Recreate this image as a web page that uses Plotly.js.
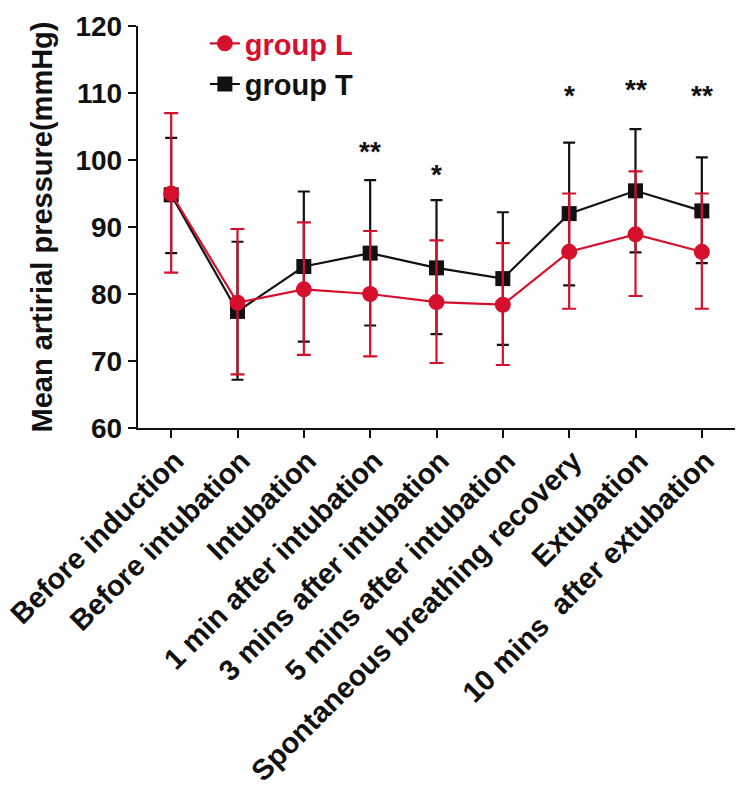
<!DOCTYPE html>
<html>
<head>
<meta charset="utf-8">
<script src="https://cdn.plot.ly/plotly-3.0.1.min.js"></script>
<style>
  html, body { margin: 0; padding: 0; background: #fff; }
  #chart { width: 741px; height: 791px; }
</style>
</head>
<body>
<div id="chart"></div>
<script>
// ---- data ----
var categories = [
  "Before induction",
  "Before intubation",
  "Intubation",
  "1 min after intubation",
  "3 mins after intubation",
  "5 mins after intubation",
  "Spontaneous breathing recovery",
  "Extubation",
  "10 mins  after extubation"
];
// group L (red)
var groupL_mean  = [95.0, 78.7, 80.7, 80.0, 78.8, 78.4, 86.3, 88.9, 86.3];
var groupL_upper = [107.0, 89.7, 90.7, 89.4, 88.0, 87.6, 95.0, 98.3, 95.0];
var groupL_lower = [83.2, 68.0, 70.9, 70.7, 69.7, 69.4, 77.8, 79.7, 77.8];
// group T (black)
var groupT_mean  = [94.8, 77.4, 84.1, 86.1, 83.9, 82.3, 92.0, 95.4, 92.4];
var groupT_upper = [103.3, 87.8, 95.3, 97.0, 94.0, 92.2, 102.6, 104.6, 100.4];
var groupT_lower = [86.1, 67.2, 72.9, 75.3, 74.0, 72.4, 81.3, 86.2, 84.6];
// significance marks
var sigCategoryIndex = [3, 4, 6, 7, 8];
var sigLabels = ["**", "*", "*", "**", "**"];
var sigY = [101.3, 97.8, 109.6, 110.5, 109.6];

var RED = "#d5102c";
var BLACK = "#111111";
var FONT = "Liberation Sans, Arial, sans-serif";

function diff(a, b) { return a.map(function (v, i) { return +(v - b[i]).toFixed(2); }); }

var traceT = {
  x: categories, y: groupT_mean, type: "scatter", mode: "lines+markers",
  name: "group T", legendgroup: "T",
  line: { color: BLACK, width: 2.2 },
  marker: { symbol: "square", size: 15, color: BLACK },
  error_y: { type: "data", symmetric: false,
    array: diff(groupT_upper, groupT_mean), arrayminus: diff(groupT_mean, groupT_lower),
    color: BLACK, thickness: 2.2, width: 6 }
};
var traceL = {
  x: categories, y: groupL_mean, type: "scatter", mode: "lines+markers",
  name: '<span style="color:' + RED + '">group L</span>', legendgroup: "L",
  line: { color: RED, width: 2.2 },
  marker: { symbol: "circle", size: 16, color: RED },
  error_y: { type: "data", symmetric: false,
    array: diff(groupL_upper, groupL_mean), arrayminus: diff(groupL_mean, groupL_lower),
    color: RED, thickness: 2.2, width: 7 }
};

var annotations = sigCategoryIndex.map(function (ci, k) {
  return { x: categories[ci], y: sigY[k], xref: "x", yref: "y", text: sigLabels[k],
    showarrow: false, font: { family: FONT, size: 28, color: BLACK, weight: "bold" },
    xanchor: "center", yanchor: "middle" };
});

var layout = {
  width: 741, height: 791,
  margin: { l: 138, r: 6, t: 26, b: 363, pad: 0 },
  paper_bgcolor: "#fff", plot_bgcolor: "#fff",
  font: { family: FONT, size: 27, color: BLACK, weight: "bold" },
  showlegend: true,
  legend: { x: 0.112, y: 1.02, xanchor: "left", yanchor: "top", traceorder: "reversed",
    font: { family: FONT, size: 29, color: BLACK, weight: "bold" },
    bgcolor: "rgba(0,0,0,0)", tracegroupgap: 4, itemwidth: 30 },
  xaxis: {
    type: "category", range: [-0.5, 8.5], showgrid: false, zeroline: false,
    showline: true, linecolor: BLACK, linewidth: 2.2,
    ticks: "outside", ticklen: 8, tickwidth: 2, tickcolor: BLACK,
    tickangle: -45, automargin: false,
    ticklabelshift: 4, ticklabelstandoff: -6,
    tickfont: { family: FONT, size: 29, color: BLACK, weight: "bold" }
  },
  yaxis: {
    range: [60, 120], dtick: 10, showgrid: false, zeroline: false,
    showline: true, linecolor: BLACK, linewidth: 2.2,
    ticks: "outside", ticklen: 8, tickwidth: 2, tickcolor: BLACK,
    automargin: false,
    tickfont: { family: FONT, size: 28, color: BLACK, weight: "bold" },
    title: { text: "Mean artirial pressure(mmHg)", standoff: 14,
      font: { family: FONT, size: 29, color: BLACK, weight: "bold" } }
  },
  annotations: annotations
};

Plotly.newPlot("chart", [traceT, traceL], layout, { staticPlot: true, displayModeBar: false });
</script>
</body>
</html>
